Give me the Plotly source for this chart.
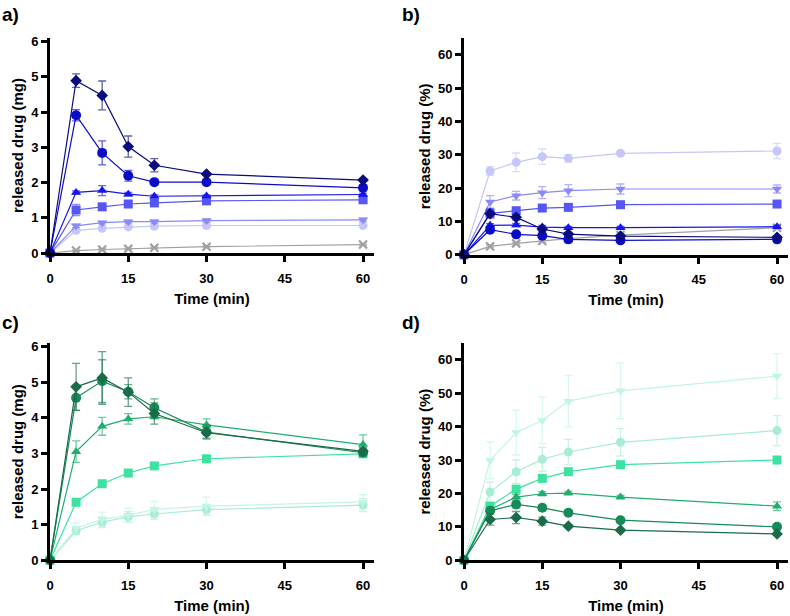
import plotly.graph_objects as go

W, H = 790, 616
FONT = "Liberation Sans, Arial, sans-serif"

time_min = [0, 5, 10, 15, 20, 30, 60]

# ---- panel a: released drug (mg), blue series ----
a_diamond = [0, 4.89, 4.47, 3.02, 2.49, 2.24, 2.07]
a_diamond_err = [0, 0.19, 0.41, 0.30, 0.19, 0.03, 0.03]
a_circle = [0, 3.91, 2.84, 2.19, 2.01, 2.01, 1.85]
a_circle_err = [0, 0.16, 0.34, 0.15, 0.04, 0.04, 0.08]
a_tri = [0, 1.72, 1.77, 1.67, 1.61, 1.62, 1.66]
a_tri_err = [0, 0.04, 0.14, 0.05, 0.04, 0.03, 0.04]
a_square = [0, 1.22, 1.31, 1.39, 1.42, 1.48, 1.51]
a_square_err = [0, 0.16, 0.05, 0.06, 0.05, 0.04, 0.04]
a_tridown = [0, 0.77, 0.86, 0.89, 0.89, 0.92, 0.94]
a_tridown_err = [0, 0.05, 0.04, 0.04, 0.04, 0.04, 0.04]
a_lcircle = [0, 0.64, 0.70, 0.74, 0.76, 0.78, 0.78]
a_lcircle_err = [0, 0.03, 0.03, 0.03, 0.03, 0.03, 0.03]
a_cross = [0, 0.07, 0.10, 0.12, 0.15, 0.18, 0.24]
a_cross_err = [0, 0.02, 0.02, 0.02, 0.02, 0.02, 0.02]

# ---- panel b: released drug (%), blue series ----
b_lcircle = [0, 25.1, 27.7, 29.4, 28.9, 30.4, 31.1]
b_lcircle_err = [0, 1.3, 2.8, 2.3, 1.1, 0.5, 2.3]
b_tridown = [0, 15.8, 17.7, 18.6, 19.2, 19.7, 19.7]
b_tridown_err = [0, 1.9, 1.3, 1.8, 1.8, 1.5, 1.2]
b_square = [0, 12.4, 13.2, 14.0, 14.2, 15.0, 15.2]
b_square_err = [0, 1.5, 0.6, 0.5, 0.5, 0.5, 0.5]
b_diamond = [0, 12.3, 11.2, 7.7, 6.2, 5.6, 5.2]
b_diamond_err = [0, 0.5, 0.8, 0.6, 0.5, 0.3, 0.3]
b_tri = [0, 8.8, 8.9, 8.3, 8.1, 8.1, 8.4]
b_tri_err = [0, 0.5, 0.5, 0.5, 0.4, 0.4, 0.4]
b_circle = [0, 7.5, 6.1, 5.7, 4.6, 4.3, 4.6]
b_circle_err = [0, 0.8, 0.5, 0.5, 0.3, 0.3, 0.4]
b_cross = [0, 2.5, 3.4, 4.1, 4.8, 5.9, 8.1]
b_cross_err = [0, 0.3, 0.3, 0.3, 0.3, 0.3, 0.3]

# ---- panel c: released drug (mg), green series ----
c_diamond = [0, 4.87, 5.12, 4.72, 4.12, 3.58, 3.06]
c_diamond_err = [0, 0.66, 0.74, 0.40, 0.30, 0.15, 0.10]
c_circle = [0, 4.56, 5.03, 4.73, 4.28, 3.60, 3.02]
c_circle_err = [0, 0.35, 0.60, 0.20, 0.25, 0.20, 0.10]
c_tri = [0, 3.05, 3.76, 3.97, 4.03, 3.80, 3.25]
c_tri_err = [0, 0.30, 0.25, 0.15, 0.06, 0.17, 0.27]
c_square = [0, 1.63, 2.15, 2.45, 2.65, 2.85, 2.99]
c_square_err = [0, 0.04, 0.04, 0.04, 0.04, 0.04, 0.04]
c_tridown = [0, 0.90, 1.15, 1.26, 1.43, 1.52, 1.64]
c_tridown_err = [0, 0.15, 0.20, 0.20, 0.22, 0.25, 0.20]
c_lcircle = [0, 0.83, 1.07, 1.22, 1.30, 1.42, 1.55]
c_lcircle_err = [0, 0.10, 0.15, 0.15, 0.15, 0.15, 0.18]

# ---- panel d: released drug (%), green series ----
d_tridown = [0, 29.9, 38.2, 41.8, 47.6, 50.7, 55.1]
d_tridown_err = [0, 5.5, 6.7, 7.0, 7.7, 8.3, 6.7]
d_lcircle = [0, 20.4, 26.5, 30.2, 32.4, 35.3, 38.8]
d_lcircle_err = [0, 3.0, 3.5, 3.6, 3.8, 4.1, 4.5]
d_square = [0, 16.2, 21.3, 24.5, 26.5, 28.6, 30.0]
d_square_err = [0, 0.5, 0.5, 0.5, 0.5, 0.5, 0.5]
d_tri = [0, 15.2, 18.9, 19.9, 20.1, 18.9, 16.2]
d_tri_err = [0, 0.7, 0.8, 0.6, 0.5, 0.5, 1.3]
d_circle = [0, 14.8, 16.7, 15.7, 14.2, 12.0, 10.0]
d_circle_err = [0, 0.8, 1.0, 0.7, 0.5, 0.5, 0.5]
d_diamond = [0, 12.2, 12.8, 11.7, 10.2, 9.0, 7.9]
d_diamond_err = [0, 1.7, 1.8, 1.2, 0.4, 0.3, 0.3]

x_ticks = [0, 15, 30, 45, 60]
mg_ticks = [0, 1, 2, 3, 4, 5, 6]
pct_ticks = [0, 10, 20, 30, 40, 50, 60]

BLUE = {
    "diamond": "#0b0b80", "circle": "#0c0cc8", "tri": "#1515f0",
    "square": "#5656f6", "tridown": "#8a8af6", "lcircle": "#c6c6fa", "cross": "#a0a0a0",
}
GREEN = {
    "diamond": "#1a6b48", "circle": "#168a58", "tri": "#1fae6e",
    "square": "#3ee2a0", "tridown": "#c2f5e2", "lcircle": "#a8edd2",
}
SYMBOL = {
    "diamond": ("diamond", 9), "circle": ("circle", 10), "tri": ("triangle-up", 9),
    "square": ("square", 9), "tridown": ("triangle-down", 9), "lcircle": ("circle", 9),
    "cross": ("x-thin", 8),
}


def rgba(hexc, a):
    h = hexc.lstrip("#")
    r, g, b = int(h[0:2], 16), int(h[2:4], 16), int(h[4:6], 16)
    return f"rgba({r},{g},{b},{a})"


fig = go.Figure()


def add(key, y, err, colors, xa, ya):
    col = colors[key]
    sym, size = SYMBOL[key]
    marker = dict(symbol=sym, size=size, color=col)
    if sym == "x-thin":
        marker["line"] = dict(color=col, width=2.2)
    fig.add_trace(go.Scatter(
        x=time_min, y=y, mode="lines+markers", xaxis=xa, yaxis=ya,
        line=dict(color=col, width=1.2), marker=marker,
        error_y=dict(type="data", array=err, visible=True,
                     color=rgba(col, 0.65), thickness=1.3, width=4),
        cliponaxis=False, showlegend=False,
    ))


# panel a
for k, y, e in [("cross", a_cross, a_cross_err), ("lcircle", a_lcircle, a_lcircle_err),
                ("tridown", a_tridown, a_tridown_err), ("square", a_square, a_square_err),
                ("tri", a_tri, a_tri_err), ("circle", a_circle, a_circle_err),
                ("diamond", a_diamond, a_diamond_err)]:
    add(k, y, e, BLUE, "x", "y")
# panel b
for k, y, e in [("cross", b_cross, b_cross_err), ("lcircle", b_lcircle, b_lcircle_err),
                ("tridown", b_tridown, b_tridown_err), ("square", b_square, b_square_err),
                ("tri", b_tri, b_tri_err), ("circle", b_circle, b_circle_err),
                ("diamond", b_diamond, b_diamond_err)]:
    add(k, y, e, BLUE, "x2", "y2")
# panel c
for k, y, e in [("lcircle", c_lcircle, c_lcircle_err), ("tridown", c_tridown, c_tridown_err),
                ("square", c_square, c_square_err), ("tri", c_tri, c_tri_err),
                ("circle", c_circle, c_circle_err), ("diamond", c_diamond, c_diamond_err)]:
    add(k, y, e, GREEN, "x3", "y3")
# panel d
for k, y, e in [("tridown", d_tridown, d_tridown_err), ("lcircle", d_lcircle, d_lcircle_err),
                ("square", d_square, d_square_err), ("tri", d_tri, d_tri_err),
                ("circle", d_circle, d_circle_err), ("diamond", d_diamond, d_diamond_err)]:
    add(k, y, e, GREEN, "x4", "y4")


def px_x(p):
    return p / W


def px_y(p):
    return 1 - p / H


tickfont = dict(family=FONT, size=13, color="black", weight="bold")
titlefont = dict(family=FONT, size=15, color="black", weight="bold")


def xaxis(x0, x1, anchor):
    return dict(domain=[px_x(x0), px_x(x1)], anchor=anchor, range=[0, 62.1],
                tickvals=x_ticks, ticks="outside", ticklen=6, tickwidth=2.5,
                tickcolor="black", showline=True, linecolor="black", linewidth=3,
                showgrid=False, zeroline=False, tickfont=tickfont, automargin=False,
                ticklabelstandoff=5,
                title=dict(text="Time (min)", font=titlefont, standoff=9))


def yaxis(y0, y1, anchor, rng, ticks, title):
    return dict(domain=[px_y(y1), px_y(y0)], anchor=anchor, range=rng,
                tickvals=ticks, ticks="outside", ticklen=6, tickwidth=2.5,
                tickcolor="black", showline=True, linecolor="black", linewidth=3,
                showgrid=False, zeroline=False, tickfont=tickfont, automargin=False,
                title=dict(text=title, font=titlefont, standoff=4))


fig.update_layout(
    width=W, height=H, margin=dict(l=0, r=0, t=0, b=0),
    plot_bgcolor="white", paper_bgcolor="white",
    xaxis=xaxis(50, 374, "y"),
    yaxis=yaxis(38, 253, "x", [0, 6.1], mg_ticks, "released drug (mg)"),
    xaxis2=xaxis(464, 788, "y2"),
    yaxis2=yaxis(38, 254.7, "x2", [0, 65], pct_ticks, "released drug (%)"),
    xaxis3=xaxis(50, 374, "y3"),
    yaxis3=yaxis(343, 560.3, "x3", [0, 6.1], mg_ticks, "released drug (mg)"),
    xaxis4=xaxis(464, 788, "y4"),
    yaxis4=yaxis(343, 560.3, "x4", [0, 65], pct_ticks, "released drug (%)"),
)

for txt, xp, yp in [("a)", 0, 2), ("b)", 400, 2), ("c)", 0, 310), ("d)", 400, 310)]:
    fig.add_annotation(text=txt, xref="paper", yref="paper", x=px_x(xp), y=px_y(yp),
                       xanchor="left", yanchor="top", showarrow=False,
                       font=dict(family=FONT, size=19, color="black", weight="bold"))

fig.write_html(
    "out.html",
    config={"displayModeBar": False},
    post_script="document.body.style.margin='0';document.body.style.padding='0';"
                "document.body.style.overflow='hidden';",
)
